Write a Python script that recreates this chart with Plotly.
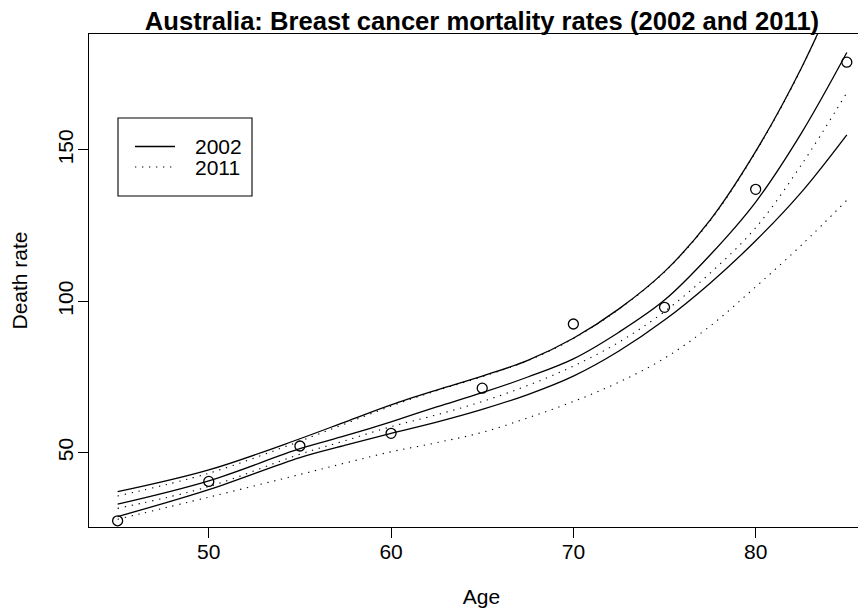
import plotly.graph_objects as go

# observed death rates
obs_age = [45, 50, 55, 60, 65, 70, 75, 80, 85]
obs_rate = [27.5, 40.5, 52.2, 56.4, 71.3, 92.5, 98.0, 137.0, 179.0]

# fitted curves (age grid)
fit_age = [45, 50, 55, 57.5, 60, 62.5, 65, 67.5, 70, 72.5, 75, 77.5, 80, 82.5, 85]
fit2002 = [33.0, 40.7, 51.3, 55.6, 60.2, 65.1, 69.8, 75.0, 81.0, 89.8, 100.4, 115.3, 132.8, 155.5, 182.2]
low2002 = [28.9, 37.8, 48.4, 52.5, 56.4, 60.1, 64.3, 69.2, 75.3, 83.6, 93.8, 106.0, 120.0, 136.0, 155.0]
upp2002 = [37.1, 44.3, 54.6, 60.2, 65.8, 70.7, 75.3, 80.5, 87.8, 97.5, 109.8, 126.8, 149.5, 177.0, 210.0]
fit2011 = [31.6, 38.8, 49.5, 54.0, 58.6, 62.5, 66.9, 72.2, 78.6, 86.5, 96.6, 109.3, 124.3, 145.0, 168.9]
low2011 = [28.0, 35.3, 42.8, 46.6, 50.3, 53.3, 56.7, 61.5, 66.9, 73.3, 81.2, 91.8, 104.8, 118.5, 133.4]
upp2011 = [35.7, 43.2, 53.8, 59.6, 65.4, 70.5, 75.1, 80.4, 87.7, 97.4, 109.7, 126.6, 149.3, 176.8, 210.0]

legend_labels = ["2002", "2011"]

FONT = "Liberation Sans, Arial, sans-serif"
DOT = "1.3px,5.7px"

fig = go.Figure()

for ys in (fit2011, low2011, upp2011):
    fig.add_trace(go.Scatter(x=fit_age, y=ys, mode="lines", showlegend=False,
                             line=dict(color="black", width=1.1, dash=DOT,
                                       shape="spline", smoothing=1.0),
                             hoverinfo="skip"))
for ys in (fit2002, low2002, upp2002):
    fig.add_trace(go.Scatter(x=fit_age, y=ys, mode="lines", showlegend=False,
                             line=dict(color="black", width=1.3,
                                       shape="spline", smoothing=1.0),
                             hoverinfo="skip"))

fig.add_trace(go.Scatter(x=obs_age, y=obs_rate, mode="markers", showlegend=False,
                         marker=dict(symbol="circle-open", size=10, color="black",
                                     line=dict(width=1.3, color="black"))))

# geometry: page offset of 8px (body margin)
OFF = 8
W, H = 866, 614
L, T = 81, 26
pw = W - L          # plot right edge runs past the window
ph = 493
B = H - T - ph

def px(x):
    return (x - OFF - L) / pw

def py(y):
    return (OFF + T + ph - y) / ph

shapes = [
    dict(type="rect", xref="paper", yref="paper", x0=px(118), x1=px(252),
         y0=py(196), y1=py(118), line=dict(color="black", width=1.1),
         fillcolor="white", layer="above"),
    dict(type="line", xref="paper", yref="paper", x0=px(135), x1=px(175),
         y0=py(146.5), y1=py(146.5), line=dict(color="black", width=1.3), layer="above"),
    dict(type="line", xref="paper", yref="paper", x0=px(135), x1=px(175),
         y0=py(167), y1=py(167), line=dict(color="black", width=1.1, dash=DOT), layer="above"),
]
annotations = [
    dict(text=legend_labels[0], xref="paper", yref="paper", x=px(193), y=py(146.5),
         xanchor="left", yanchor="middle", showarrow=False,
         font=dict(family=FONT, size=21, color="black")),
    dict(text=legend_labels[1], xref="paper", yref="paper", x=px(193), y=py(167),
         xanchor="left", yanchor="middle", showarrow=False,
         font=dict(family=FONT, size=21, color="black")),
]

fig.update_layout(
    width=W, height=H,
    margin=dict(l=L, r=0, t=T, b=B, autoexpand=False),
    paper_bgcolor="white", plot_bgcolor="white",
    font=dict(family=FONT, size=21, color="black"),
    title=dict(text="<b>Australia: Breast cancer mortality rates (2002 and 2011)</b>",
               xref="container", x=(482 - OFF) / W, xanchor="center",
               yref="container", y=1 - (21 - OFF) / H, yanchor="middle",
               font=dict(family=FONT, size=25.6, color="black")),
    shapes=shapes, annotations=annotations,
    xaxis=dict(range=[43.43, 43.43 + pw / 18.23], tickvals=[50, 60, 70, 80],
               showgrid=False, zeroline=False,
               showline=True, mirror=True, linecolor="black", linewidth=1.1,
               ticks="outside", ticklen=10, tickcolor="black", tickwidth=1.1,
               ticklabelstandoff=-4,
               title=dict(text="Age", standoff=27,
                          font=dict(family=FONT, size=21, color="black")),
               automargin=False),
    yaxis=dict(range=[25.45, 188.3], tickvals=[50, 100, 150],
               showgrid=False, zeroline=False,
               showline=True, mirror=False, linecolor="black", linewidth=1.1,
               ticks="outside", ticklen=10, tickcolor="black", tickwidth=1.1,
               tickangle=-90, ticklabelstandoff=-3,
               title=dict(text="Death rate", standoff=22,
                          font=dict(family=FONT, size=21, color="black")),
               automargin=False),
)

fig.write_html("out.html")
